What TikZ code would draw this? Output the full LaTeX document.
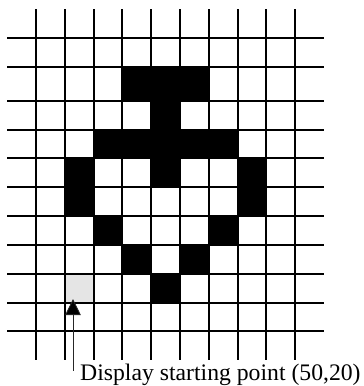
\documentclass[tikz,border=0pt]{standalone}
\usepackage{fontspec}
\setmainfont{Liberation Serif}
\usetikzlibrary{arrows.meta}
\tikzset{
  x=1bp,y=-1bp,
  gridline/.style={line width=1.7bp,black},
  blackcell/.style={fill=black},
  startcell/.style={fill=black!10},
  pointer/.style={line width=0.8bp,black!85,{Triangle[length=16bp,width=15.5bp,fill=black]}-},
  caption/.style={anchor=base west,inner sep=0pt,font=\fontsize{23.7bp}{26bp}\selectfont}
}
\begin{document}
\begin{tikzpicture}
\useasboundingbox (0,0) rectangle (364,386);
% cells
\fill[startcell] (64.7,273.7) rectangle (93.7,302.7);
\foreach \xa/\ya/\xb/\yb in {
  121.7/66.7/208.7/100.7,
  151/100.7/180/129.7,
  93.7/129.7/237.7/157.7,
  64.7/157.7/93.7/216,
  151/157.7/180/186.7,
  237.7/157.7/265.7/216,
  93.7/216/121.7/244.7,
  208.7/216/237.7/244.7,
  121.7/244.7/151/273.7,
  180/244.7/208.7/273.7,
  151/273.7/180/302.7}
  \fill[blackcell] (\xa,\ya) rectangle (\xb,\yb);
% grid
\foreach \x in {35.7,64.7,93.7,121.7,151.2,180.2,208.7,237.7,265.7,295.2}
  \draw[gridline] (\x,9) -- (\x,359.7);
\foreach \y in {37.7,66.7,100.7,129.7,157.7,186.7,215.7,244.7,273.7,302.7,330.7}
  \draw[gridline] (7,\y) -- (323.7,\y);
% caption and pointer
\node[caption] (label) at (80,380) {Display starting point (50,20)};
\coordinate (tip) at (73,299);
\coordinate (tail) at (73,371);
\draw[pointer] (tip) -- (tail);
\end{tikzpicture}
\end{document}
